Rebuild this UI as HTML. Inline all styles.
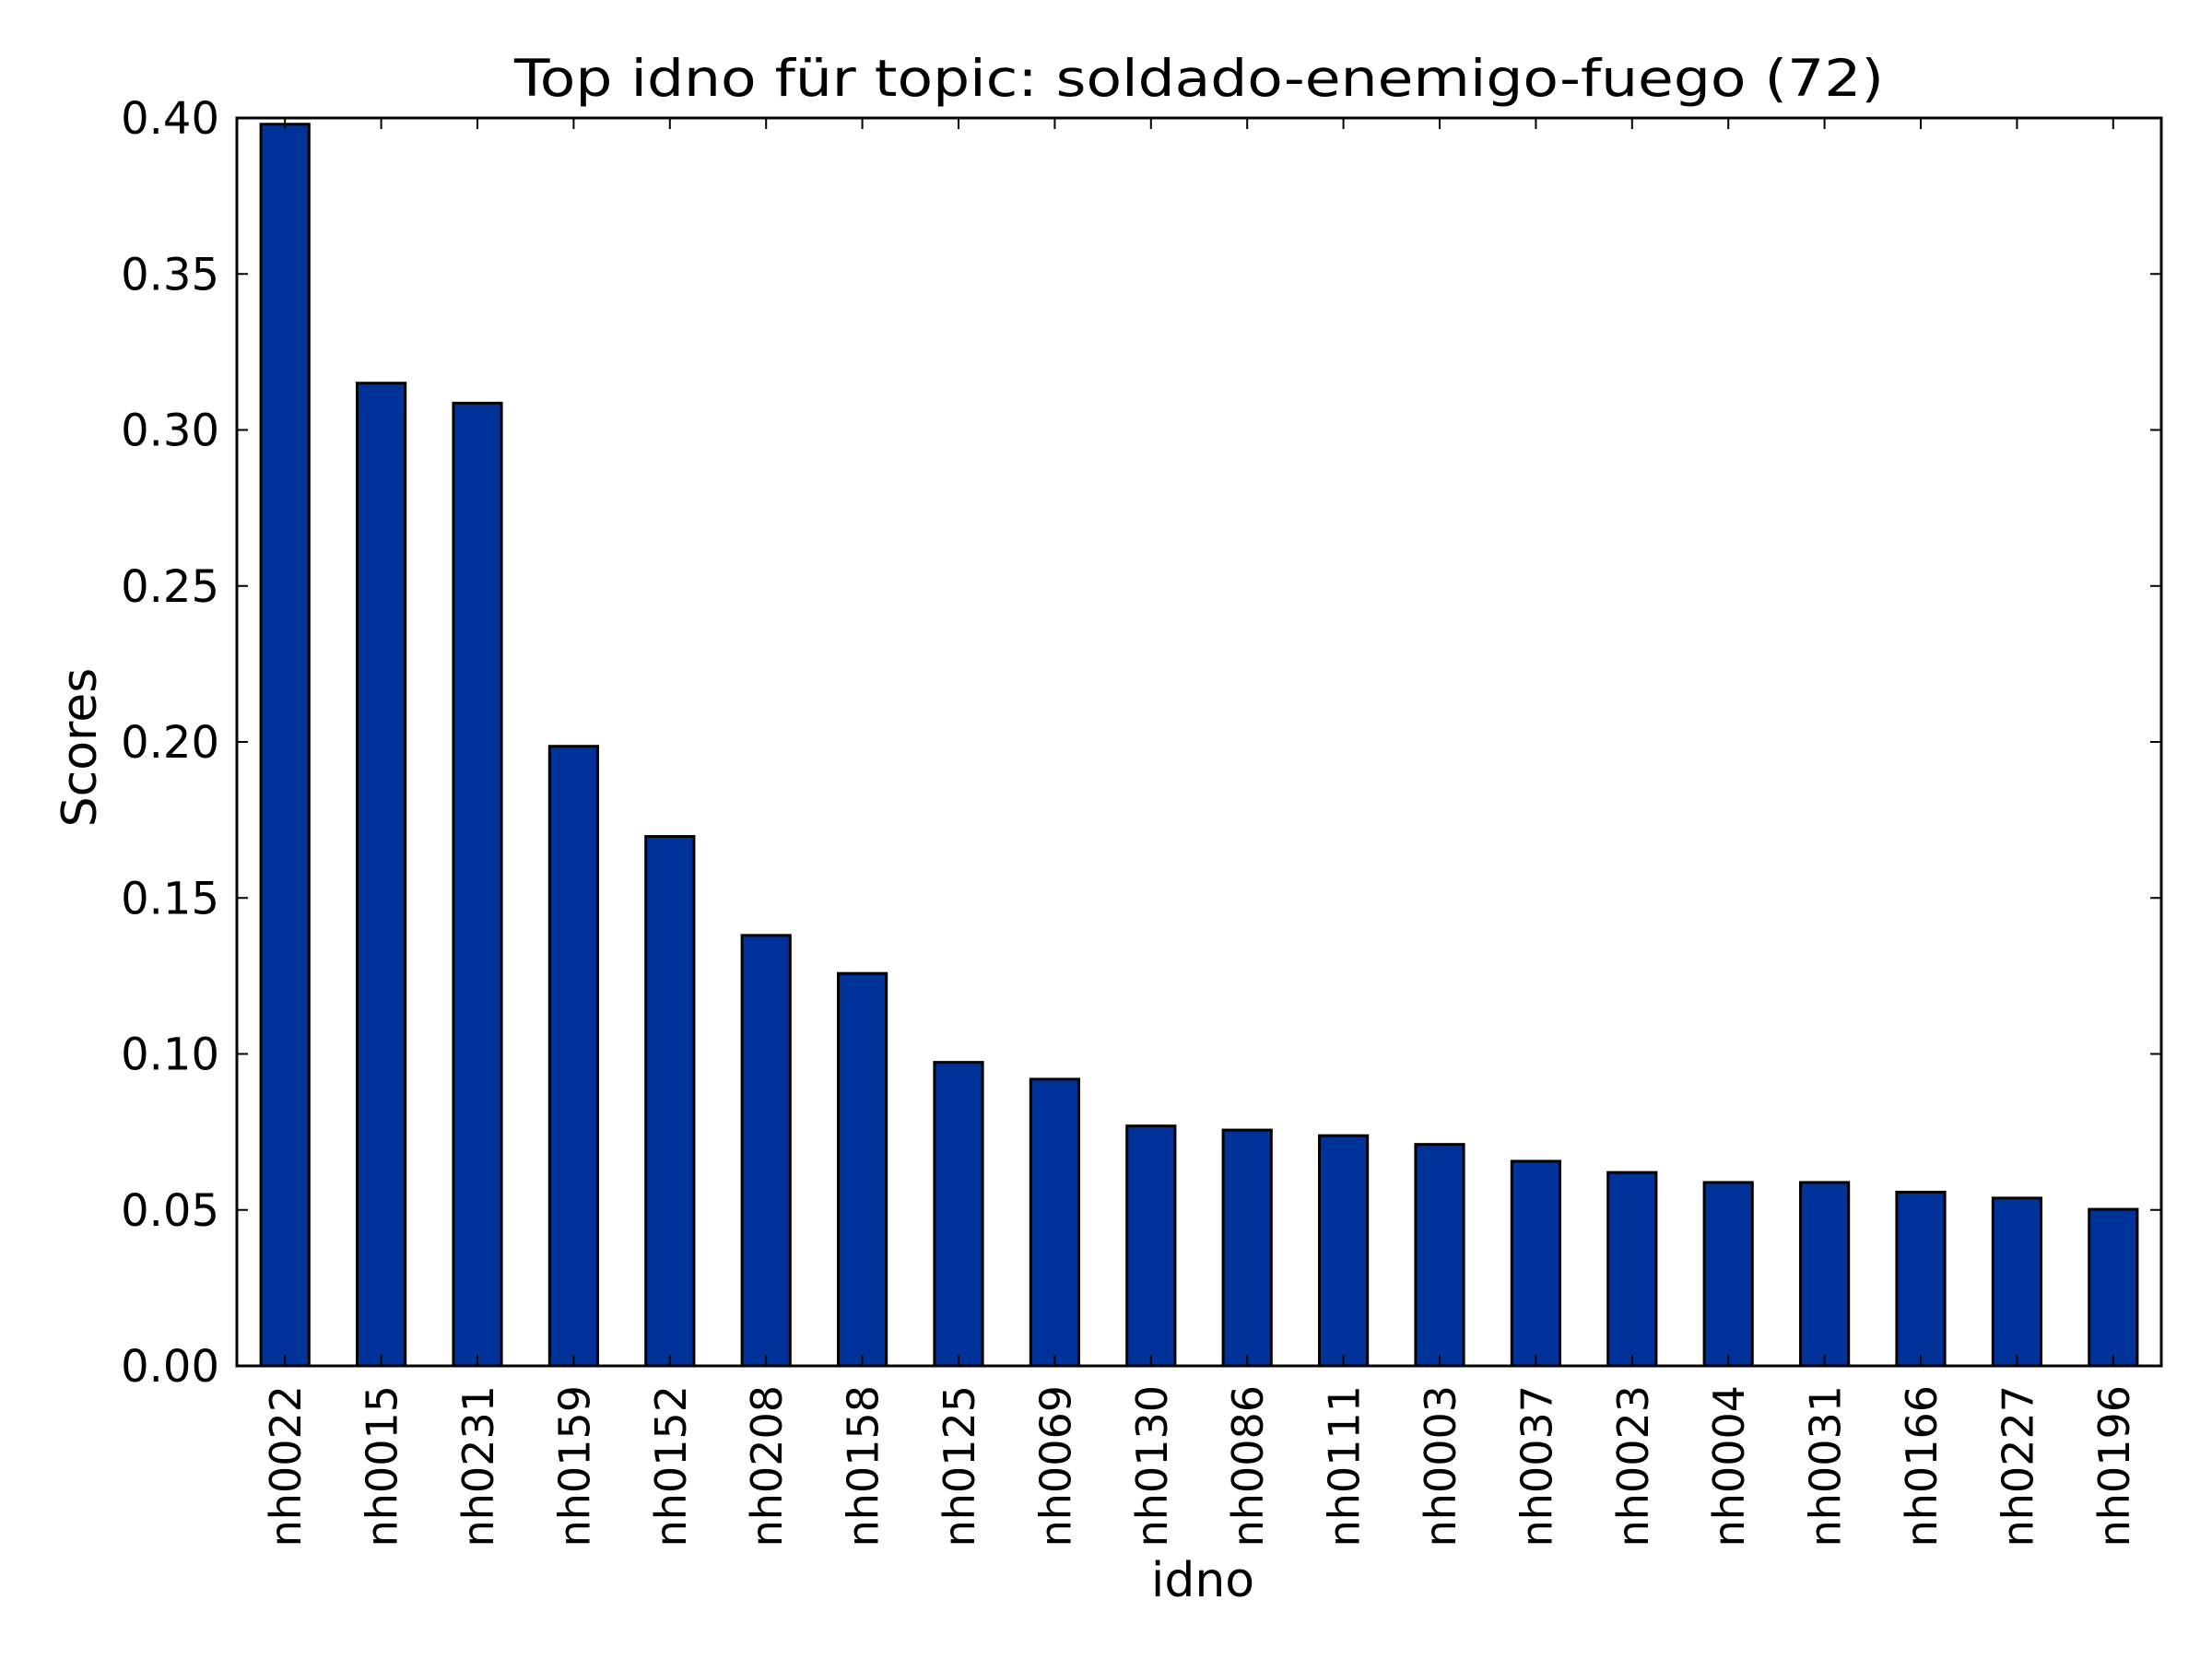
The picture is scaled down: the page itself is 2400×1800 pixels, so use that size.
<!DOCTYPE html>
<html><head><meta charset="utf-8"><style>
html,body{margin:0;padding:0;background:#fff;}
svg{display:block;font-family:"DejaVu Sans","Liberation Sans",sans-serif;}
</style></head><body>
<svg id="chart" width="2400" height="1800" viewBox="0 0 2400 1800">
<text x="1301" y="104" font-size="55" text-anchor="middle" textLength="1486" lengthAdjust="spacingAndGlyphs">Top idno für topic: soldado-enemigo-fuego (72)</text>
<text transform="translate(104,811) rotate(-90)" font-size="52" text-anchor="middle">Scores</text>
<text x="1305" y="1732" font-size="52" text-anchor="middle">idno</text>
<g id="bars"></g><g id="ticks"></g>
<rect x="257" y="128" width="2088" height="1354" fill="none" stroke="#000" stroke-width="3"/>
</svg>
<script>
const categories=["nh0022","nh0015","nh0231","nh0159","nh0152","nh0208","nh0158","nh0125","nh0069","nh0130","nh0086","nh0111","nh0003","nh0037","nh0023","nh0004","nh0031","nh0166","nh0227","nh0196"];
const scores=[0.398,0.315,0.3086,0.1986,0.1697,0.138,0.1258,0.0973,0.0919,0.0769,0.0756,0.0738,0.071,0.0656,0.062,0.0588,0.0588,0.0557,0.0538,0.0502];
const yTicks=[0,0.05,0.1,0.15,0.2,0.25,0.3,0.35,0.4];
const yTickLabels=["0.00","0.05","0.10","0.15","0.20","0.25","0.30","0.35","0.40"];
const NS="http://www.w3.org/2000/svg";
const L=257,R=2345,T=128,B=1482,yMax=0.4;
const slot=(R-L)/categories.length;
function xC(i){return L+slot*(i+0.5);}
function y(v){return B-(v/yMax)*(B-T);}
const bars=document.getElementById('bars'),ticks=document.getElementById('ticks');
function mk(tag,at,parent){const e=document.createElementNS(NS,tag);for(const k in at)e.setAttribute(k,at[k]);parent.appendChild(e);return e;}
categories.forEach((c,i)=>{
  const w=slot*0.5;
  const r=mk('rect',{x:xC(i)-w/2,y:y(scores[i]),width:w,height:B-y(scores[i]),fill:'#003399',stroke:'#000','stroke-width':3},bars);
  
  
  const t1=mk('line',{x1:xC(i),x2:xC(i),y1:B,y2:B-12,stroke:'#000','stroke-width':2},ticks);
  
  
  const t2=mk('line',{x1:xC(i),x2:xC(i),y1:T,y2:T+12,stroke:'#000','stroke-width':2},ticks);
  
  
  const lb=mk('text',{transform:`translate(${xC(i)+17},1503) rotate(-90)`,'font-size':46,'text-anchor':'end'},ticks);
  lb.textContent=c;
  
  
});
yTicks.forEach((v,i)=>{
  const a=mk('line',{x1:L,x2:L+12,y1:y(v),y2:y(v),stroke:'#000','stroke-width':2},ticks);
  
  
  const b=mk('line',{x1:R,x2:R-12,y1:y(v),y2:y(v),stroke:'#000','stroke-width':2},ticks);
  
  
  const lb=mk('text',{x:238,y:y(v)+17,'font-size':48,'text-anchor':'end'},ticks);
  lb.textContent=yTickLabels[i];
  
  
});
</script>
</body></html>
